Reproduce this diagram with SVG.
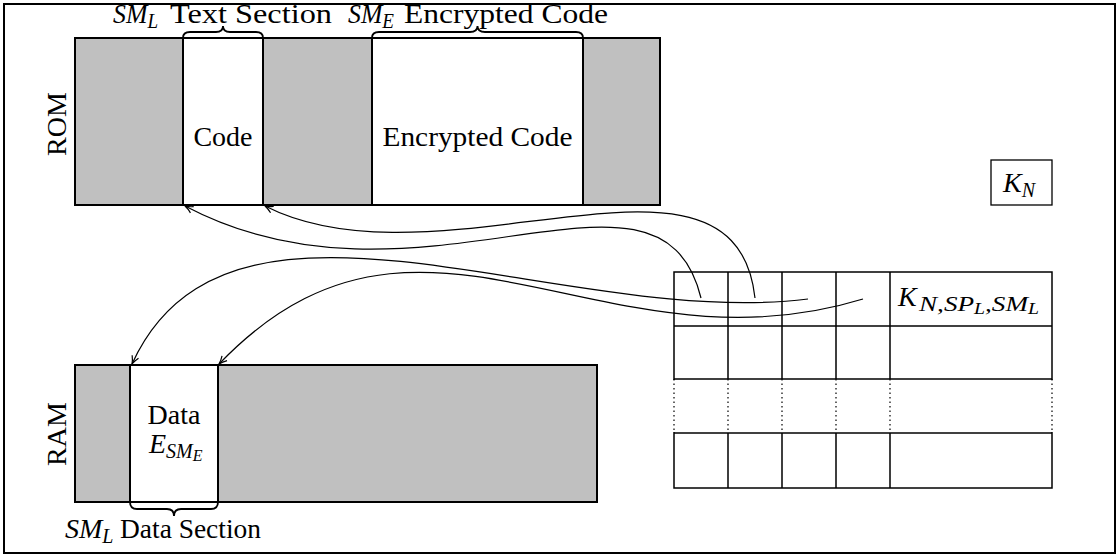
<svg xmlns="http://www.w3.org/2000/svg" width="1119" height="559" viewBox="0 0 1119 559">
<style>
.t{font-family:"Liberation Serif","DejaVu Serif",serif;font-size:28px;fill:#000}
.tt{font-size:27px}
.i{font-style:italic}
.s{font-size:20px}
.s2{font-size:22px}
.ss{font-size:16px}
.gray{fill:#c0c0c0;stroke:none}
.box{fill:none;stroke:#000;stroke-width:2}
.sep{stroke:#000;stroke-width:2}
.grid{stroke:#000;stroke-width:1.5;fill:none}
.dot{stroke:#000;stroke-width:1.2;stroke-dasharray:1.5 3;fill:none}
.brace{fill:none;stroke:#000;stroke-width:1.8}
.conn{fill:none;stroke:#000;stroke-width:1.2;marker-end:url(#ah)}
</style>
<defs>
<marker id="ah" viewBox="0 0 10 10" refX="9" refY="5" markerWidth="10" markerHeight="10" markerUnits="userSpaceOnUse" orient="auto">
<path d="M1,1.5 Q5,4 9,5 Q5,6 1,8.5" fill="none" stroke="#000" stroke-width="1.2"/>
</marker>
</defs>
<rect x="4" y="4" width="1111" height="549" fill="#fff" stroke="#000" stroke-width="2"/>

<g id="rom">
<rect class="gray" x="75" y="38" width="108" height="167"/>
<rect class="gray" x="263" y="38" width="109" height="167"/>
<rect class="gray" x="583" y="38" width="77" height="167"/>
<rect class="box" x="75" y="38" width="585" height="167"/>
<line class="sep" x1="183" y1="38" x2="183" y2="205"/>
<line class="sep" x1="263" y1="38" x2="263" y2="205"/>
<line class="sep" x1="372" y1="38" x2="372" y2="205"/>
<line class="sep" x1="583" y1="38" x2="583" y2="205"/>
<text class="t" x="223" y="146" text-anchor="middle">Code</text>
<text class="t" x="477.5" y="146" text-anchor="middle" textLength="190" lengthAdjust="spacingAndGlyphs">Encrypted Code</text>
<text class="t" transform="translate(66,124) rotate(-90)" text-anchor="middle">ROM</text>
<path class="brace" d="M183,38 Q183,32 190,32 L216,32 Q223,32 223,26 Q223,32 230,32 L256,32 Q263,32 263,38"/>
<path class="brace" d="M372,38 Q372,32 379,32 L470,32 Q477.5,32 477.5,26 Q477.5,32 485,32 L576,32 Q583,32 583,38"/>
<text class="t tt" x="113" y="23" textLength="45" lengthAdjust="spacingAndGlyphs"><tspan class="i">SM</tspan><tspan class="i s" dy="5">L</tspan></text>
<text class="t tt" x="332" y="23" text-anchor="end" textLength="162" lengthAdjust="spacingAndGlyphs">Text Section</text>
<text class="t tt" x="348" y="23" textLength="46" lengthAdjust="spacingAndGlyphs"><tspan class="i">SM</tspan><tspan class="i s" dy="5">E</tspan></text>
<text class="t tt" x="608" y="23" text-anchor="end" textLength="204" lengthAdjust="spacingAndGlyphs">Encrypted Code</text>
</g>

<g id="kn">
<rect x="991" y="160" width="61" height="45" fill="none" stroke="#000" stroke-width="1.3"/>
<text class="t" x="1003" y="192"><tspan class="i">K</tspan><tspan class="i s" dy="5">N</tspan></text>
</g>

<g id="table">
<rect class="grid" x="674" y="272" width="378" height="216"/>
<line class="grid" x1="674" y1="326" x2="1052" y2="326"/>
<line class="grid" x1="674" y1="379" x2="1052" y2="379"/>
<line class="grid" x1="674" y1="433" x2="1052" y2="433"/>
<path class="grid" d="M728,272V379M782,272V379M836,272V379M890,272V379M728,433V488M782,433V488M836,433V488M890,433V488"/>
<rect x="673" y="380" width="2" height="52" fill="#fff"/>
<rect x="1051" y="380" width="2" height="52" fill="#fff"/>
<path class="dot" d="M674,379V433M728,379V433M782,379V433M836,379V433M890,379V433M1052,379V433"/>
<text class="t" x="898" y="306"><tspan class="i">K</tspan></text>
<text class="t" x="919" y="311" textLength="120" lengthAdjust="spacingAndGlyphs"><tspan class="i s2">N,SP</tspan><tspan class="i ss" dy="3">L</tspan><tspan class="i s2" dy="-3">,SM</tspan><tspan class="i ss" dy="3">L</tspan></text>
</g>

<g id="ram">
<rect class="gray" x="75" y="365" width="55" height="137"/>
<rect class="gray" x="218" y="365" width="379" height="137"/>
<rect class="box" x="75" y="365" width="522" height="137"/>
<line class="sep" x1="130" y1="365" x2="130" y2="502"/>
<line class="sep" x1="218" y1="365" x2="218" y2="502"/>
<text class="t" x="174" y="424" text-anchor="middle">Data</text>
<text class="t" x="149" y="453"><tspan class="i">E</tspan><tspan class="i s" dy="5">SM</tspan><tspan class="i ss" dy="3">E</tspan></text>
<text class="t" transform="translate(66,434) rotate(-90)" text-anchor="middle">RAM</text>
<path class="brace" d="M130,502 Q130,509 137,509 L167,509 Q174,509 174,516 Q174,509 181,509 L211,509 Q218,509 218,502"/>
<text class="t" x="65" y="538"><tspan class="i">SM</tspan><tspan class="i s" dy="5">L</tspan></text>
<text class="t" x="261" y="538" text-anchor="end" textLength="141" lengthAdjust="spacingAndGlyphs">Data Section</text>
</g>

<g id="connectors">
<path class="conn" d="M701,298 C660,130 420,330 185,206"/>
<path class="conn" d="M755,298 C735,115 440,295 265,206"/>
<path class="conn" d="M808,299 C560,330 230,150 132,364"/>
<path class="conn" d="M863,299 C600,380 420,155 219,364"/>
</g>
</svg>
